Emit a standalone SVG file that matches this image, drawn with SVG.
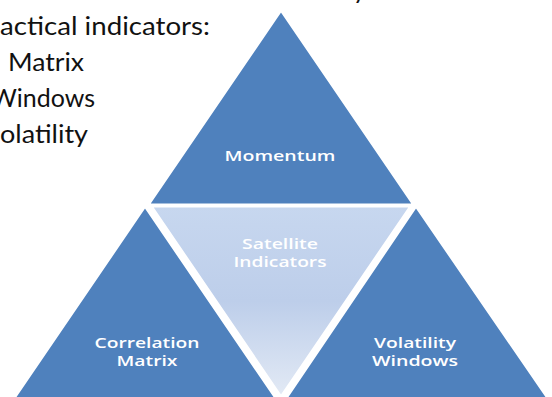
<svg xmlns="http://www.w3.org/2000/svg" width="552" height="397" viewBox="0 0 552 397">
<style>
.tri{fill:#4F81BD;stroke:#FFFFFF;stroke-width:3;stroke-linejoin:miter}
.lbl{font-family:"Open Sans","DejaVu Sans",sans-serif;font-size:14.5px;font-weight:600;fill:#FFFFFF;text-anchor:middle}
.side{font-family:Lato,"Open Sans",sans-serif;font-size:25px;fill:#111111}
</style>
<defs>
<linearGradient id="lg" x1="0" y1="0" x2="0" y2="1">
<stop offset="0" stop-color="#C7D7EF"/>
<stop offset="0.5" stop-color="#BDCEEA"/>
<stop offset="1" stop-color="#E3EAF5"/>
</linearGradient>
</defs>
<rect width="552" height="397" fill="#FFFFFF"/>
<g id="side-text">
<text class="side" x="0" y="35" textLength="210" lengthAdjust="spacingAndGlyphs">actical indicators:</text>
<text class="side" x="8" y="71" textLength="76" lengthAdjust="spacingAndGlyphs">Matrix</text>
<text class="side" x="-9" y="107" textLength="104" lengthAdjust="spacingAndGlyphs">Windows</text>
<text class="side" x="0" y="143" textLength="88" lengthAdjust="spacingAndGlyphs">olatility</text>
<text class="side" x="353" y="-1">y</text>
</g>
<g id="momentum">
<polygon class="tri" points="281,10 148,205 414,205"/>
<text class="lbl" x="280" y="161" textLength="111" lengthAdjust="spacingAndGlyphs">Momentum</text>
</g>
<g id="satellite">
<polygon points="151,206 411,206 281,397" fill="url(#lg)" stroke="#FFFFFF" stroke-width="3"/>
<text class="lbl" x="280" y="249" textLength="76" lengthAdjust="spacingAndGlyphs">Satellite</text>
<text class="lbl" x="280" y="267" textLength="93" lengthAdjust="spacingAndGlyphs">Indicators</text>
</g>
<g id="correlation">
<polygon class="tri" points="145,206 12,401 278,401"/>
<text class="lbl" x="147" y="348" textLength="105" lengthAdjust="spacingAndGlyphs">Correlation</text>
<text class="lbl" x="147" y="366" textLength="61" lengthAdjust="spacingAndGlyphs">Matrix</text>
</g>
<g id="volatility">
<polygon class="tri" points="416,206 284,401 550,401"/>
<text class="lbl" x="415" y="348" textLength="82" lengthAdjust="spacingAndGlyphs">Volatility</text>
<text class="lbl" x="415" y="366" textLength="86" lengthAdjust="spacingAndGlyphs">Windows</text>
</g>
<g id="connectors"/>
</svg>
